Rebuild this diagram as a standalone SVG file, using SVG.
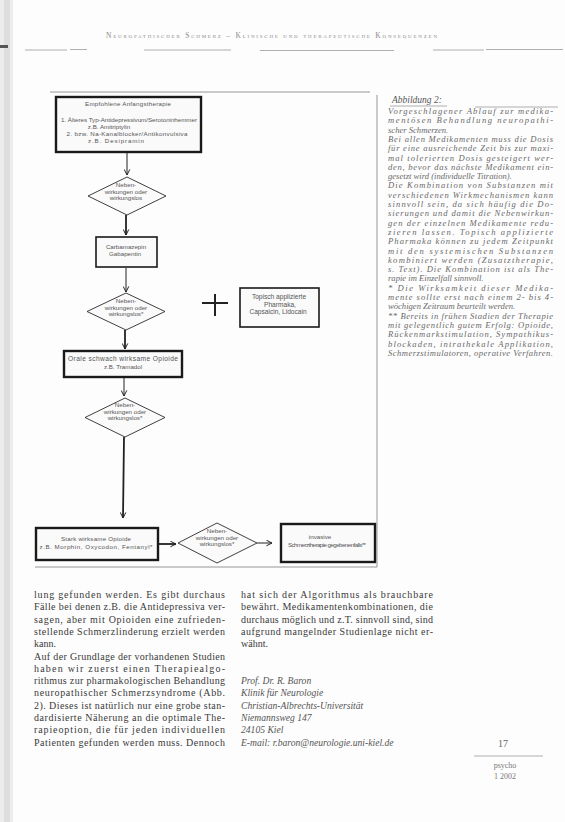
<svg xmlns="http://www.w3.org/2000/svg" width="565" height="822" viewBox="0 0 565 822">
<style>
.bg{fill:#fdfdfd}
.rule{stroke:#9a9a9a;stroke-width:0.8;fill:none}
.frame{stroke:#8a8a8a;stroke-width:0.9;fill:none}
.box{fill:#fafafa;stroke:#1a1a1a;stroke-width:2.4}
.box2{fill:#fafafa;stroke:#1a1a1a;stroke-width:1.6}
.dia{fill:#fafafa;stroke:#2a2a2a;stroke-width:0.9}
.ft{font-family:"Liberation Sans",Arial,sans-serif;font-size:6.2px;fill:#555;text-anchor:middle}
.con{stroke:#222;stroke-width:1;fill:none}
.conb{stroke:#222;stroke-width:1.8;fill:none}
.hdr{font-family:"Liberation Serif","Times New Roman",serif;font-size:7.5px;fill:#8a8a8a;font-variant:small-caps}
.cap{font-family:"Liberation Serif","Times New Roman",serif;font-style:italic;font-size:8.6px;fill:#6a6a6a}
.caph{font-family:"Liberation Serif","Times New Roman",serif;font-style:italic;font-size:9.5px;fill:#555}
.body{font-family:"Liberation Serif","Times New Roman",serif;font-size:10px;fill:#3a3a3a}
.addr{font-family:"Liberation Serif","Times New Roman",serif;font-style:italic;font-size:9.6px;fill:#555}
.foot{font-family:"Liberation Serif","Times New Roman",serif;font-size:8px;fill:#777;text-anchor:middle}
</style>
<defs>
<marker id="ah" viewBox="0 0 10 10" refX="9" refY="5" markerWidth="7" markerHeight="7" orient="auto" markerUnits="userSpaceOnUse">
<path d="M1,1 L9,5 L1,9" fill="none" stroke="#222" stroke-width="1.4"/>
</marker>
</defs>
<rect class="bg" x="0" y="0" width="565" height="822"/>
<g id="scan-margin">
<rect x="0" y="0" width="13" height="822" fill="#ececec"/>
<rect x="4" y="0" width="6" height="822" fill="#dedede"/>
<rect x="0" y="45" width="8" height="3" fill="#555"/>
</g>
<g id="header">
<text class="hdr" x="106" y="38" textLength="331" lengthAdjust="spacing">Neuropathischer Schmerz – Klinische und therapeutische Konsequenzen</text>
<path class="rule" d="M25,50 H67 M70,49.5 H87 M144,50 H231 M260,50.5 H394 M433,50 H484 M486,49.5 H563"/>
</g>
<g id="figure-frame">
<path class="frame" d="M50,92 H370 M377,95 V567 M35,567 H377"/>
</g>
<g id="connectors">
<line class="con" x1="127" y1="153" x2="127" y2="175" marker-end="url(#ah)"/>
<line class="conb" x1="126" y1="215" x2="126" y2="235" marker-end="url(#ah)"/>
<line class="con" x1="126" y1="268" x2="126" y2="292" marker-end="url(#ah)"/>
<line class="conb" x1="125" y1="330" x2="125" y2="349" marker-end="url(#ah)"/>
<line class="con" x1="124" y1="378" x2="124" y2="396" marker-end="url(#ah)"/>
<line class="conb" x1="124" y1="437" x2="123" y2="518" marker-end="url(#ah)"/>
<line class="conb" x1="159" y1="544" x2="176" y2="544" marker-end="url(#ah)"/>
<line class="con" x1="257" y1="543" x2="272" y2="543" marker-end="url(#ah)"/>
</g>
<g id="node-start">
<rect class="box" x="56" y="97" width="145" height="55"/>
<text class="ft" x="128" y="106" textLength="86" lengthAdjust="spacing">Empfohlene Anfangstherapie</text>
<text class="ft" x="129" y="122" textLength="136" lengthAdjust="spacingAndGlyphs">1. Älteres Typ-Antidepressivum/Serotoninhemmer</text>
<text class="ft" x="109" y="128.5">z.B. Amitriptylin</text>
<text class="ft" x="127" y="135.5" textLength="121" lengthAdjust="spacing">2. bzw. Na-Kanalblocker/Antikonvulsiva</text>
<text class="ft" x="116" y="142.5" textLength="56" lengthAdjust="spacing">z.B. Desipramin</text>
</g>
<g id="node-d1">
<polygon class="dia" points="127,177 166,196 127,215 88,196"/>
<text class="ft" x="126" y="187">Neben-</text>
<text class="ft" x="126" y="193.5">wirkungen oder</text>
<text class="ft" x="126" y="200">wirkungslos</text>
</g>
<g id="node-b2">
<rect class="box2" x="96" y="237" width="61" height="30"/>
<text class="ft" x="126" y="249">Carbamazepin</text>
<text class="ft" x="125" y="256">Gabapentin</text>
</g>
<g id="node-d2">
<polygon class="dia" points="126,293 165,311.5 126,330 87,311.5"/>
<text class="ft" x="126" y="303">Neben-</text>
<text class="ft" x="126" y="309.5">wirkungen oder</text>
<text class="ft" x="126" y="316">wirkungslos*</text>
</g>
<g id="node-plus">
<path d="M202,303 H228 M215,294 V316" stroke="#222" stroke-width="2" fill="none"/>
</g>
<g id="node-topisch">
<rect class="box2" x="240" y="288" width="79" height="39"/>
<text class="ft" x="279" y="299" style="font-size:6.6px">Topisch applizierte</text>
<text class="ft" x="280" y="306.5" style="font-size:6.6px">Pharmaka,</text>
<text class="ft" x="278" y="314" style="font-size:6.6px">Capsaicin, Lidocain</text>
</g>
<g id="node-b3">
<rect class="box" x="64" y="351" width="118" height="26"/>
<text class="ft" x="123" y="361" style="font-size:6.6px" textLength="110" lengthAdjust="spacing">Orale schwach wirksame Opioide</text>
<text class="ft" x="123" y="369">z.B. Tramadol</text>
</g>
<g id="node-d3">
<polygon class="dia" points="125,398 165,417.5 125,437 85,417.5"/>
<text class="ft" x="125" y="407">Neben-</text>
<text class="ft" x="125" y="413.5">wirkungen oder</text>
<text class="ft" x="125" y="420">wirkungslos*</text>
</g>
<g id="node-b4">
<rect class="box" x="36" y="528" width="122" height="32"/>
<text class="ft" x="96" y="541" textLength="70" lengthAdjust="spacing">Stark wirksame Opioide</text>
<text class="ft" x="96" y="549" textLength="113" lengthAdjust="spacing">z.B. Morphin, Oxycodon, Fentanyl*</text>
</g>
<g id="node-d4">
<polygon class="dia" points="217,523 257,543 217,563 178,543"/>
<text class="ft" x="217" y="533">Neben-</text>
<text class="ft" x="217" y="539.5">wirkungen oder</text>
<text class="ft" x="217" y="546">wirkungslos*</text>
</g>
<g id="node-b5">
<rect class="box" x="281" y="524" width="94" height="38"/>
<text class="ft" x="320" y="539">invasive</text>
<text class="ft" x="327" y="547" textLength="78" lengthAdjust="spacing">Schmerztherapie gegebenenfalls**</text>
</g>
<g id="caption">
<text class="caph" x="392" y="103">Abbildung 2:</text>
<path class="rule" d="M390,106 H447 M475,107 H558"/>
<text class="cap" x="388" y="114" textLength="165" lengthAdjust="spacing">Vorgeschlagener Ablauf zur medika-</text>
<text class="cap" x="388" y="123.3" textLength="165" lengthAdjust="spacing">mentösen Behandlung neuropathi-</text>
<text class="cap" x="388" y="132.6">scher Schmerzen.</text>
<text class="cap" x="388" y="141.9" textLength="165" lengthAdjust="spacing">Bei allen Medikamenten muss die Dosis</text>
<text class="cap" x="388" y="151.2" textLength="165" lengthAdjust="spacing">für eine ausreichende Zeit bis zur maxi-</text>
<text class="cap" x="388" y="160.5" textLength="165" lengthAdjust="spacing">mal tolerierten Dosis gesteigert wer-</text>
<text class="cap" x="388" y="169.8" textLength="165" lengthAdjust="spacing">den, bevor das nächste Medikament ein-</text>
<text class="cap" x="388" y="179.1">gesetzt wird (individuelle Titration).</text>
<text class="cap" x="388" y="188.4" textLength="165" lengthAdjust="spacing">Die Kombination von Substanzen mit</text>
<text class="cap" x="388" y="197.7" textLength="165" lengthAdjust="spacing">verschiedenen Wirkmechanismen kann</text>
<text class="cap" x="388" y="207" textLength="165" lengthAdjust="spacing">sinnvoll sein, da sich häufig die Do-</text>
<text class="cap" x="388" y="216.3" textLength="165" lengthAdjust="spacing">sierungen und damit die Nebenwirkun-</text>
<text class="cap" x="388" y="225.6" textLength="165" lengthAdjust="spacing">gen der einzelnen Medikamente redu-</text>
<text class="cap" x="388" y="234.9" textLength="165" lengthAdjust="spacing">zieren lassen. Topisch applizierte</text>
<text class="cap" x="388" y="244.2" textLength="165" lengthAdjust="spacing">Pharmaka können zu jedem Zeitpunkt</text>
<text class="cap" x="388" y="253.5" textLength="165" lengthAdjust="spacing">mit den systemischen Substanzen</text>
<text class="cap" x="388" y="262.8" textLength="165" lengthAdjust="spacing">kombiniert werden (Zusatztherapie,</text>
<text class="cap" x="388" y="272.1" textLength="165" lengthAdjust="spacing">s. Text). Die Kombination ist als The-</text>
<text class="cap" x="388" y="281.4">rapie im Einzelfall sinnvoll.</text>
<text class="cap" x="388" y="290.7" textLength="165" lengthAdjust="spacing">* Die Wirksamkeit dieser Medika-</text>
<text class="cap" x="388" y="300" textLength="165" lengthAdjust="spacing">mente sollte erst nach einem 2- bis 4-</text>
<text class="cap" x="388" y="309.3">wöchigen Zeitraum beurteilt werden.</text>
<text class="cap" x="388" y="318.6" textLength="165" lengthAdjust="spacing">** Bereits in frühen Stadien der Therapie</text>
<text class="cap" x="388" y="327.9" textLength="165" lengthAdjust="spacing">mit gelegentlich gutem Erfolg: Opioide,</text>
<text class="cap" x="388" y="337.2" textLength="165" lengthAdjust="spacing">Rückenmarkstimulation, Sympathikus-</text>
<text class="cap" x="388" y="346.5" textLength="165" lengthAdjust="spacing">blockaden, intrathekale Applikation,</text>
<text class="cap" x="388" y="355.8" textLength="165" lengthAdjust="spacing">Schmerzstimulatoren, operative Verfahren.</text>
</g>
<g id="body-left">
<text class="body" x="34" y="598" textLength="191" lengthAdjust="spacing">lung gefunden werden. Es gibt durchaus</text>
<text class="body" x="34" y="610.3" textLength="191" lengthAdjust="spacing">Fälle bei denen z.B. die Antidepressiva ver-</text>
<text class="body" x="34" y="622.6" textLength="191" lengthAdjust="spacing">sagen, aber mit Opioiden eine zufrieden-</text>
<text class="body" x="34" y="634.9" textLength="191" lengthAdjust="spacing">stellende Schmerzlinderung erzielt werden</text>
<text class="body" x="34" y="647.2">kann.</text>
<text class="body" x="34" y="659.5" textLength="191" lengthAdjust="spacing">Auf der Grundlage der vorhandenen Studien</text>
<text class="body" x="34" y="671.8" textLength="191" lengthAdjust="spacing">haben wir zuerst einen Therapiealgo-</text>
<text class="body" x="34" y="684.1" textLength="191" lengthAdjust="spacing">rithmus zur pharmakologischen Behandlung</text>
<text class="body" x="34" y="696.4" textLength="191" lengthAdjust="spacing">neuropathischer Schmerzsyndrome (Abb.</text>
<text class="body" x="34" y="708.7" textLength="191" lengthAdjust="spacing">2). Dieses ist natürlich nur eine grobe stan-</text>
<text class="body" x="34" y="721" textLength="191" lengthAdjust="spacing">dardisierte Näherung an die optimale The-</text>
<text class="body" x="34" y="733.3" textLength="191" lengthAdjust="spacing">rapieoption, die für jeden individuellen</text>
<text class="body" x="34" y="745.6" textLength="191" lengthAdjust="spacing">Patienten gefunden werden muss. Dennoch</text>
</g>
<g id="body-right">
<text class="body" x="241" y="598" textLength="192" lengthAdjust="spacing">hat sich der Algorithmus als brauchbare</text>
<text class="body" x="241" y="610.3" textLength="192" lengthAdjust="spacing">bewährt. Medikamentenkombinationen, die</text>
<text class="body" x="241" y="622.6" textLength="192" lengthAdjust="spacing">durchaus möglich und z.T. sinnvoll sind, sind</text>
<text class="body" x="241" y="634.9" textLength="192" lengthAdjust="spacing">aufgrund mangelnder Studienlage nicht er-</text>
<text class="body" x="241" y="647.2">wähnt.</text>
</g>
<g id="address">
<text class="addr" x="241" y="684.1">Prof. Dr. R. Baron</text>
<text class="addr" x="241" y="696.4">Klinik für Neurologie</text>
<text class="addr" x="241" y="708.7">Christian-Albrechts-Universität</text>
<text class="addr" x="241" y="721">Niemannsweg 147</text>
<text class="addr" x="241" y="733.3">24105 Kiel</text>
<text class="addr" x="241" y="745.6">E-mail: r.baron@neurologie.uni-kiel.de</text>
</g>
<g id="footer">
<text class="foot" x="503" y="747" style="font-size:10px;fill:#666">17</text>
<path class="rule" d="M474,756 H543"/>
<text class="foot" x="505" y="768">psycho</text>
<text class="foot" x="505" y="779">1 2002</text>
</g>
</svg>
